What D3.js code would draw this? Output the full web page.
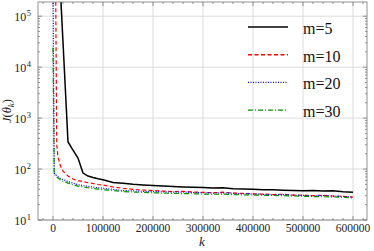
<!doctype html>
<html>
<head>
<meta charset="utf-8">
<script src="https://cdn.jsdelivr.net/npm/d3@7"></script>
<style>
  body { margin: 0; background: #fff; }
  svg text { font-family: "Liberation Serif", "DejaVu Serif", "Times New Roman", Times, serif; }
</style>
</head>
<body>
<script>
// iteration k (shared by all runs)
var kVals = [0, 2500, 5000, 7500, 10000, 15000, 20000, 25000, 30000, 40000, 50000,
  60000, 70000, 80000, 90000, 100000, 120000, 140000, 160000, 180000, 200000,
  220000, 240000, 260000, 280000, 300000, 320000, 340000, 360000, 380000, 400000,
  420000, 440000, 460000, 480000, 500000, 520000, 540000, 560000, 580000, 600000];

var m5 = [2.5e8, 8.3e7, 2.7e7, 8.7e6, 2.8e6, 2.9e5, 3.1e4, 3250, 340, 236, 164,
  83.5, 72.9, 68.2, 64.3, 61.5, 54.3, 52.5, 50.1, 48.6, 47.5,
  46.4, 45.4, 44.4, 43.8, 43.4, 42.4, 42.8, 41.1, 40.5, 40.0,
  39.1, 39.3, 38.5, 37.9, 37.6, 37.9, 37.0, 37.4, 35.7, 34.9];

var m10 = [2e6, 1.5e6, 1e6, 300, 172, 114.5, 91.3, 81.6, 72.9, 63.7, 59.5,
  57.0, 53.9, 52.0, 49.7, 48.6, 44.4, 41.8, 40.0, 38.8, 37.9,
  37.0, 36.2, 36.5, 35.4, 34.9, 34.3, 35.1, 33.8, 33.3, 32.6,
  32.3, 31.6, 32.0, 30.9, 30.5, 30.2, 30.5, 29.6, 29.2, 28.2];

var m20 = [5e5, 83, 78, 74, 70.7, 65.6, 61.5, 59.6, 57.0, 53.0, 49.3,
  47.6, 45.8, 44.4, 42.8, 41.9, 40.0, 37.8, 37.2, 36.6, 36.2,
  35.7, 35.2, 35.4, 34.6, 34.3, 33.8, 34.0, 33.3, 32.8, 32.3,
  31.9, 31.4, 31.6, 30.7, 30.4, 30.0, 30.2, 29.4, 29.0, 28.0];

var m30 = [2.4e4, 80, 75, 70, 66.6, 60.8, 57.6, 55.6, 53.0, 49.3, 46.4,
  44.4, 43.0, 41.5, 40.5, 39.3, 37.9, 36.2, 35.4, 34.8, 34.2,
  33.8, 33.3, 33.0, 32.7, 32.3, 32.0, 32.2, 31.5, 31.2, 30.9,
  30.6, 30.3, 30.0, 29.6, 29.2, 28.9, 28.6, 28.3, 27.8, 27.0];

var seriesNames = ["m=5", "m=10", "m=20", "m=30"];
var seriesData = [m5, m10, m20, m30];
var xTicks = [0, 100000, 200000, 300000, 400000, 500000, 600000];
var yExponents = [1, 2, 3, 4, 5];

var styles = [
  { color: "#000000", dash: null, width: 1.5 },
  { color: "#ff0000", dash: "4,2.5", width: 1.2 },
  { color: "#0000ff", dash: "1,1.5", width: 1.2 },
  { color: "#009000", dash: "5,2,1,2", width: 1.2 }
];

var W = 374, H = 251;
var pLeft = 38, pRight = 367, pTop = 2, pBottom = 220;

var x = d3.scaleLinear().domain([-30000, 628000]).range([pLeft, pRight]);
var y = d3.scaleLog().domain([10, 1.9e5]).range([pBottom, pTop]);

var svg = d3.select("body").append("svg")
  .attr("width", W)
  .attr("height", H);

svg.append("defs").append("clipPath").attr("id", "clip")
  .append("rect")
  .attr("x", pLeft).attr("y", pTop)
  .attr("width", pRight - pLeft).attr("height", pBottom - pTop);

// grid
svg.append("g").selectAll("line")
  .data(xTicks).enter().append("line")
  .attr("x1", function(d) { return x(d); })
  .attr("x2", function(d) { return x(d); })
  .attr("y1", pTop).attr("y2", pBottom)
  .attr("stroke", "#dcdcdc").attr("stroke-width", 1);

svg.append("g").selectAll("line")
  .data(yExponents).enter().append("line")
  .attr("x1", pLeft).attr("x2", pRight)
  .attr("y1", function(d) { return y(Math.pow(10, d)); })
  .attr("y2", function(d) { return y(Math.pow(10, d)); })
  .attr("stroke", "#dcdcdc").attr("stroke-width", 1);

// ticks on all four sides, pointing inward
var minorX = d3.range(-20000, 628000, 20000).filter(function(d) { return d % 100000 !== 0; });
var minorY = [];
[1, 2, 3, 4, 5].forEach(function(e) {
  for (var i = 2; i <= 9; i++) {
    var v = i * Math.pow(10, e);
    if (v <= 1.9e5) minorY.push(v);
  }
});

var ticks = svg.append("g").attr("stroke", "#777").attr("stroke-width", 0.8);
function xTickMarks(data, len) {
  data.forEach(function(d) {
    ticks.append("line").attr("x1", x(d)).attr("x2", x(d)).attr("y1", pBottom).attr("y2", pBottom - len);
    ticks.append("line").attr("x1", x(d)).attr("x2", x(d)).attr("y1", pTop).attr("y2", pTop + len);
  });
}
function yTickMarks(data, len) {
  data.forEach(function(d) {
    ticks.append("line").attr("y1", y(d)).attr("y2", y(d)).attr("x1", pLeft).attr("x2", pLeft + len);
    ticks.append("line").attr("y1", y(d)).attr("y2", y(d)).attr("x1", pRight).attr("x2", pRight - len);
  });
}
xTickMarks(xTicks, 4);
xTickMarks(minorX, 2);
yTickMarks(yExponents.map(function(e) { return Math.pow(10, e); }), 4);
yTickMarks(minorY, 2);

// curves
var line = d3.line()
  .x(function(d) { return x(d[0]); })
  .y(function(d) { return y(d[1]); });

var curves = svg.append("g").attr("clip-path", "url(#clip)");
seriesData.forEach(function(vals, i) {
  var pts = kVals.map(function(k, j) { return [k, vals[j]]; });
  curves.append("path")
    .attr("d", line(pts))
    .attr("fill", "none")
    .attr("stroke", styles[i].color)
    .attr("stroke-width", styles[i].width)
    .attr("stroke-dasharray", styles[i].dash);
});

// frame
svg.append("rect")
  .attr("x", pLeft).attr("y", pTop)
  .attr("width", pRight - pLeft).attr("height", pBottom - pTop)
  .attr("fill", "none").attr("stroke", "#777").attr("stroke-width", 0.8);

// tick labels
svg.append("g").selectAll("text")
  .data(xTicks).enter().append("text")
  .attr("x", function(d) { return x(d); })
  .attr("y", 232)
  .attr("text-anchor", "middle")
  .style("font-size", "11.5px")
  .attr("fill", "#222")
  .text(function(d) { return d; });

var yl = svg.append("g").selectAll("text")
  .data(yExponents).enter().append("text")
  .attr("x", 31)
  .attr("y", function(d) { return y(Math.pow(10, d)) + 4.5; })
  .attr("text-anchor", "end")
  .style("font-size", "12px")
  .attr("fill", "#222");
yl.append("tspan").text("10");
yl.append("tspan").style("font-size", "8.5px").attr("dy", -5).attr("dx", 0.5)
  .text(function(d) { return d; });

// axis titles
svg.append("text")
  .attr("x", 202).attr("y", 246)
  .attr("text-anchor", "middle")
  .style("font-size", "13px").style("font-style", "italic")
  .attr("fill", "#222")
  .text("k");

var yt = svg.append("text")
  .attr("transform", "translate(11,111) rotate(-90)")
  .attr("text-anchor", "middle")
  .style("font-size", "12.5px")
  .attr("fill", "#222");
yt.append("tspan").style("font-style", "italic").text("J");
yt.append("tspan").text("(");
yt.append("tspan").style("font-style", "italic").text("θ");
yt.append("tspan").style("font-style", "italic").style("font-size", "9px").attr("dy", 3).text("k");
yt.append("tspan").attr("dy", -3).text(")");

// legend
var legend = svg.append("g");
seriesNames.forEach(function(name, i) {
  var ly = 27 + i * 27.7;
  legend.append("line")
    .attr("x1", 248).attr("x2", 288)
    .attr("y1", ly).attr("y2", ly)
    .attr("stroke", styles[i].color)
    .attr("stroke-width", styles[i].width + 0.2)
    .attr("stroke-dasharray", styles[i].dash);
  legend.append("text")
    .attr("x", 303).attr("y", ly + 7)
    .style("font-size", "16px")
    .attr("fill", "#111")
    .text(name);
});
</script>
</body>
</html>
